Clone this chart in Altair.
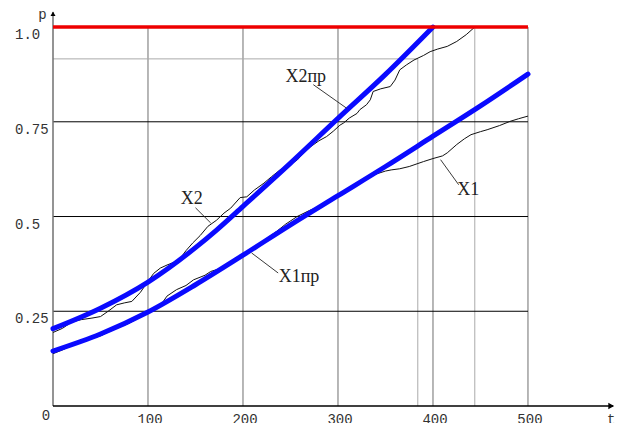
import altair as alt
import pandas as pd

# ---- data ----
x1pr_t = [0, 50, 100, 150, 200, 250, 300, 350, 400, 450, 500]
x1pr_p = [0.145, 0.19, 0.248, 0.32, 0.398, 0.478, 0.555, 0.632, 0.712, 0.792, 0.876]

x2pr_t = [0, 50, 100, 150, 172.5, 200, 250, 300, 350, 400]
x2pr_p = [0.204, 0.258, 0.327, 0.418, 0.465, 0.527, 0.641, 0.759, 0.875, 1.0]

x1_t = [0, 10, 20, 30, 40, 50, 60, 70, 80, 90, 100, 108, 115, 120, 130, 140, 148, 160, 166, 175,
        183, 192, 200, 210, 222, 235, 245, 257, 270, 285, 300, 315, 325, 340, 350, 356, 365, 375,
        390, 400, 410, 415, 425, 433, 440, 450, 457, 470, 481, 490, 500]
x1_p = [0.138, 0.148, 0.160, 0.170, 0.178, 0.185, 0.197, 0.208, 0.218, 0.232, 0.248, 0.258, 0.272,
        0.290, 0.307, 0.318, 0.333, 0.345, 0.355, 0.362, 0.373, 0.385, 0.395, 0.41, 0.437, 0.46,
        0.48, 0.50, 0.516, 0.531, 0.553, 0.575, 0.59, 0.612, 0.62, 0.623, 0.626, 0.632, 0.645,
        0.653, 0.66, 0.668, 0.69, 0.705, 0.716, 0.724, 0.729, 0.74, 0.751, 0.758, 0.765]

x2_t = [0, 10, 20, 30, 41, 50, 58, 67, 75, 83, 92, 100, 106, 113, 120, 128, 134, 140, 147, 155,
        163, 172, 180, 187, 197, 204, 212, 222, 230, 239, 248, 257, 264, 271, 280, 288, 295, 302,
        306, 312, 320, 323, 330, 334, 337, 345, 355, 360, 365, 372, 380, 390, 397, 405, 415, 425,
        435, 444]
x2_p = [0.194, 0.205, 0.222, 0.228, 0.232, 0.236, 0.25, 0.267, 0.272, 0.276, 0.30, 0.329, 0.35,
        0.364, 0.372, 0.38, 0.39, 0.41, 0.43, 0.45, 0.474, 0.49, 0.509, 0.522, 0.55, 0.552, 0.57,
        0.588, 0.605, 0.623, 0.635, 0.649, 0.668, 0.684, 0.70, 0.711, 0.725, 0.741, 0.747, 0.76,
        0.772, 0.782, 0.795, 0.808, 0.83, 0.837, 0.843, 0.86, 0.887, 0.9, 0.913, 0.925, 0.935,
        0.942, 0.949, 0.962, 0.98, 1.0]

x_ticks = [100, 200, 300, 400, 500]
x_tick_labels = ["100", "200", "300", "400", "500"]
origin_label = "0"
y_ticks = [1.0, 0.75, 0.5, 0.25]
y_tick_labels = ["1.0", "0.75", "0.5", "0.25"]

grid_t = [100, 200, 300, 400, 500]
grid_p = [0.25, 0.5, 0.75]
mark_t = [384, 444]
mark_t_top = [0.916, 1.0]
mark_p = 0.916
limit_p = 1.0

curve_names = ["X2пр", "X2", "X1пр", "X1"]
curve_label_t = [266, 146, 259, 437]
curve_label_p = [0.868, 0.547, 0.340, 0.569]
leader_t1 = [274, 150, 209, 408]
leader_p1 = [0.848, 0.523, 0.404, 0.650]
leader_t2 = [309, 166, 237, 427]
leader_p2 = [0.786, 0.483, 0.351, 0.584]

# ---- build ----
T_MAX = 591.6
xs = alt.Scale(domain=[0, T_MAX], nice=False, zero=False)
ys = alt.Scale(domain=[0, 1.045], nice=False, zero=False)


def X(f="t"):
    return alt.X(f"{f}:Q", scale=xs, axis=None)


def Y(f="p"):
    return alt.Y(f"{f}:Q", scale=ys, axis=None)


vgrid = alt.Chart(pd.DataFrame({"t": grid_t, "y0": [0] * 5, "y1": [limit_p] * 5})).mark_rule(
    color="#707070", strokeWidth=1).encode(x=X(), y=Y("y0"), y2="y1:Q")

vmark = alt.Chart(pd.DataFrame({"t": mark_t, "y0": [0, 0], "y1": mark_t_top})).mark_rule(
    color="#ababab", strokeWidth=1).encode(x=X(), y=Y("y0"), y2="y1:Q")

hgrid = alt.Chart(pd.DataFrame({"p": grid_p, "t0": [0] * 3, "t1": [500] * 3})).mark_rule(
    color="#000000", strokeWidth=1).encode(y=Y(), x=X("t0"), x2="t1:Q")

hmark = alt.Chart(pd.DataFrame({"p": [mark_p], "t0": [0], "t1": [mark_t[0]]})).mark_rule(
    color="#ababab", strokeWidth=1).encode(y=Y(), x=X("t0"), x2="t1:Q")

xaxis = alt.Chart(pd.DataFrame({"p": [0], "t0": [0], "t1": [T_MAX - 2]})).mark_rule(
    color="#000000", strokeWidth=1.5).encode(y=Y(), x=X("t0"), x2="t1:Q")

yaxis = alt.Chart(pd.DataFrame({"t": [0], "y0": [0], "y1": [1.04]})).mark_rule(
    color="#707070", strokeWidth=1.5).encode(x=X(), y=Y("y0"), y2="y1:Q")

xarrow = alt.Chart(pd.DataFrame({"t": [T_MAX - 4], "p": [0]})).mark_point(
    shape="triangle-right", filled=True, color="#000", size=45, opacity=1).encode(x=X(), y=Y())
yarrow = alt.Chart(pd.DataFrame({"t": [0], "p": [1.035]})).mark_point(
    shape="triangle-up", filled=True, color="#000", size=25, opacity=1).encode(x=X(), y=Y())

red = alt.Chart(pd.DataFrame({"p": [limit_p], "t0": [0], "t1": [500]})).mark_rule(
    color="#ee0000", strokeWidth=3.5).encode(y=Y(), x=X("t0"), x2="t1:Q")

thin_df = pd.concat([
    pd.DataFrame({"t": x1_t, "p": x1_p, "s": "X1"}),
    pd.DataFrame({"t": x2_t, "p": x2_p, "s": "X2"}),
])
thin = alt.Chart(thin_df).mark_line(color="#111111", strokeWidth=1).encode(
    x=X(), y=Y(), detail="s:N", order="t:Q")

blue_df = pd.concat([
    pd.DataFrame({"t": x1pr_t, "p": x1pr_p, "s": "X1пр"}),
    pd.DataFrame({"t": x2pr_t, "p": x2pr_p, "s": "X2пр"}),
])
blue = alt.Chart(blue_df).mark_line(color="#0a0aff", strokeWidth=5, interpolate="monotone",
                                     strokeCap="round").encode(
    x=X(), y=Y(), detail="s:N", order="t:Q")

leaders = alt.Chart(pd.DataFrame({"t": leader_t1, "p": leader_p1, "t2": leader_t2, "p2": leader_p2})).mark_rule(
    color="#222222", strokeWidth=0.9).encode(x=X(), y=Y(), x2="t2:Q", y2="p2:Q")

curve_labels = alt.Chart(pd.DataFrame({"t": curve_label_t, "p": curve_label_p, "lab": curve_names})).mark_text(
    font="Liberation Serif", fontSize=18, color="#222222", align="center", baseline="middle").encode(
    x=X(), y=Y(), text="lab:N")

xlabels = alt.Chart(pd.DataFrame({"t": x_ticks, "p": [0] * 5, "lab": x_tick_labels})).mark_text(
    font="Liberation Mono", fontSize=14, color="#333333", align="center", baseline="top", dy=7, dx=2).encode(
    x=X(), y=Y(), text="lab:N")

olabel = alt.Chart(pd.DataFrame({"t": [0], "p": [0], "lab": [origin_label]})).mark_text(
    font="Liberation Mono", fontSize=14, color="#333333", align="center", baseline="top", dy=3, dx=-7).encode(
    x=X(), y=Y(), text="lab:N")

ylabels = alt.Chart(pd.DataFrame({"t": [0] * 4, "p": y_ticks, "lab": y_tick_labels})).mark_text(
    font="Liberation Mono", fontSize=14, color="#333333", align="left", baseline="middle", dx=-38, dy=8).encode(
    x=X(), y=Y(), text="lab:N")

p_name = alt.Chart(pd.DataFrame({"t": [-11], "p": [1.045], "lab": ["p"]})).mark_text(
    font="Liberation Mono", fontSize=14, color="#333333", align="center", baseline="top", dy=-2).encode(
    x=X(), y=Y(), text="lab:N")
t_name = alt.Chart(pd.DataFrame({"t": [T_MAX - 4], "p": [0], "lab": ["t"]})).mark_text(
    font="Liberation Mono", fontSize=14, color="#333333", align="center", baseline="top", dy=7).encode(
    x=X(), y=Y(), text="lab:N")

chart = alt.layer(
    vgrid, vmark, hgrid, hmark, yaxis, xaxis, xarrow, yarrow,
    thin, blue, red, leaders, curve_labels, xlabels, olabel, ylabels, p_name, t_name
).properties(
    width=562, height=396,
    padding={"left": 45, "top": 2, "right": 4, "bottom": 17},
    autosize=alt.AutoSizeParams(type="none"),
    background="white",
).configure_view(stroke=None)

chart.save("out.html", embed_options={"renderer": "svg", "actions": False})
